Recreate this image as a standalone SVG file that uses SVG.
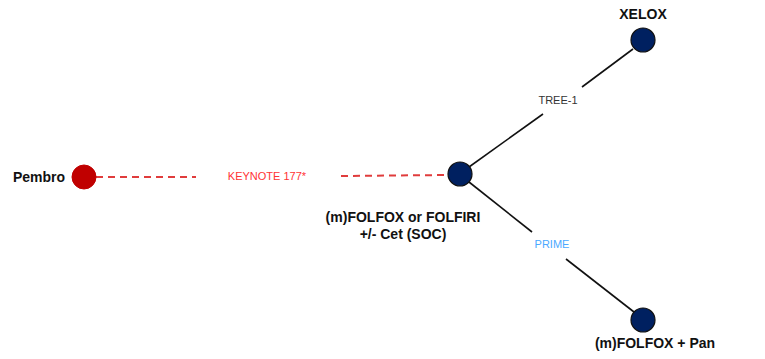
<svg xmlns="http://www.w3.org/2000/svg" width="765" height="359" viewBox="0 0 765 359">
<style>
.node{fill:#002060;stroke:#111;stroke-width:1.2}
.lbl{font-family:"Liberation Sans",Arial,sans-serif;font-weight:bold;font-size:14px;fill:#111}
.el{font-family:"Liberation Sans",Arial,sans-serif;font-size:11px}
.solid{stroke:#111;stroke-width:1.6;fill:none}
.dash{stroke:#e03c3c;stroke-width:2;stroke-dasharray:7 5;fill:none}
</style>
<rect width="765" height="359" fill="#fff"/>
<g id="connectors">
<line class="dash" x1="96" y1="177" x2="196" y2="177"/>
<line class="dash" x1="341" y1="176" x2="448" y2="175"/>
<text class="el" x="267" y="180" text-anchor="middle" fill="#ff3333">KEYNOTE 177*</text>
<line class="solid" x1="469" y1="167" x2="543" y2="114"/>
<line class="solid" x1="582" y1="87" x2="633" y2="49"/>
<text class="el" x="558" y="104" text-anchor="middle" fill="#333">TREE-1</text>
<line class="solid" x1="469" y1="182" x2="532" y2="232"/>
<line class="solid" x1="566" y1="259" x2="634" y2="312"/>
<text class="el" x="552" y="248" text-anchor="middle" fill="#4aa8ff">PRIME</text>
</g>
<g id="pembro">
<circle cx="84" cy="177" r="12" fill="#c00000" stroke="#c00000"/>
<text class="lbl" x="65" y="182" text-anchor="end">Pembro</text>
</g>
<g id="soc">
<circle class="node" cx="460" cy="174" r="12"/>
<text class="lbl" x="403" y="222" text-anchor="middle">(m)FOLFOX or FOLFIRI</text>
<text class="lbl" x="403" y="239" text-anchor="middle">+/- Cet (SOC)</text>
</g>
<g id="xelox">
<circle class="node" cx="643" cy="40" r="12"/>
<text class="lbl" x="643" y="19" text-anchor="middle">XELOX</text>
</g>
<g id="folfoxpan">
<circle class="node" cx="643" cy="320" r="12"/>
<text class="lbl" x="655" y="348" text-anchor="middle">(m)FOLFOX + Pan</text>
</g>
</svg>
